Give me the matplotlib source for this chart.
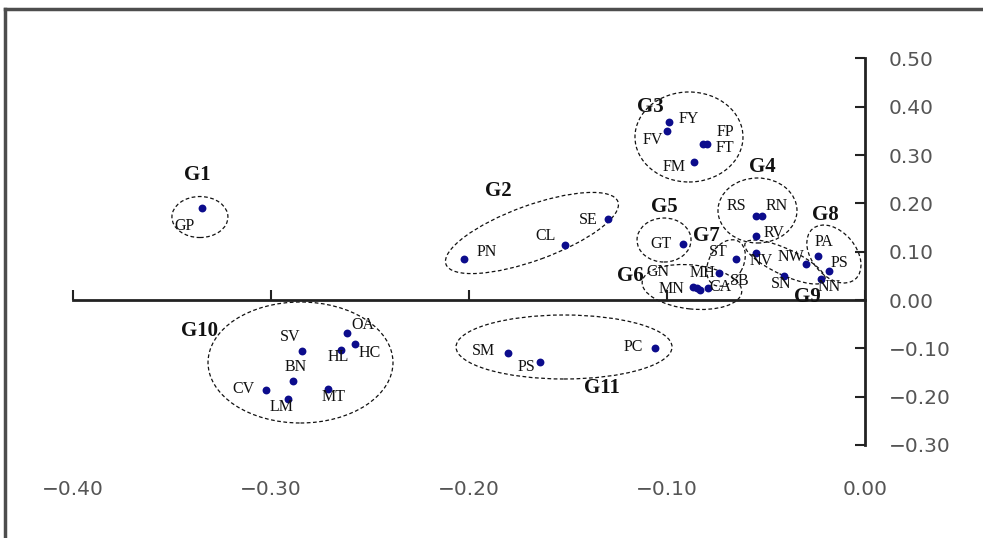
import matplotlib
matplotlib.use('Agg')
import matplotlib.pyplot as plt
from matplotlib.patches import Ellipse
from matplotlib.transforms import ScaledTranslation
from matplotlib.lines import Line2D
from matplotlib.ticker import FuncFormatter

# 포인트 (코드, dim1, dim2)
codes = ['GP',
         'PN', 'CL', 'SE',
         'FY', 'FV', 'FP', 'FT', 'FM',
         'RS', 'RN', 'RV',
         'GT',
         'GN', 'MN', 'MH', 'CA',
         'ST', 'SB',
         'PA', 'PS',
         'NV', 'NW', 'SN', 'NN',
         'OA', 'HC', 'HL', 'SV', 'BN', 'CV', 'LM', 'MT',
         'SM', 'PS', 'PC']
dim1 = [-0.335,
        -0.2025, -0.1515, -0.130,
        -0.0988, -0.1001, -0.0817, -0.0800, -0.0862,
        -0.0551, -0.0522, -0.0552,
        -0.0921,
        -0.0869, -0.0848, -0.0833, -0.0793,
        -0.0650, -0.0736,
        -0.0239, -0.0180,
        -0.0552, -0.0298, -0.0408, -0.0224,
        -0.2618, -0.2576, -0.2648, -0.2843, -0.2887, -0.3027, -0.2914, -0.2714,
        -0.1801, -0.1641, -0.1061]
dim2 = [0.190,
        0.085, 0.114, 0.168,
        0.368, 0.350, 0.322, 0.322, 0.286,
        0.174, 0.174, 0.1325,
        0.115,
        0.027, 0.025, 0.021, 0.025,
        0.085, 0.0565,
        0.0917, 0.0607,
        0.098, 0.074, 0.050, 0.0435,
        -0.069, -0.0918, -0.1035, -0.105, -0.168, -0.186, -0.204, -0.185,
        -0.109, -0.1277, -0.0988]

# 라벨 위치 (pixel offset)
lab_dx = [-17, 23, -19, -19, 19, -14, 22, 18, -20, -19, 15, 18, -22,
          -35, -26, 2, 12, -18, 20, 6, 10, 5, -15, -3, 9,
          16, 15, -2, -12, 2, -22, -6, 6, -25, -14, -22]
lab_dy = [-18, 7, 9, -1, 3, -9, 12, -4, -5, 10, 10, 3, 0,
          15, -1, 17, 1, 7, -8, 14, 8, -8, 7, -8, -8,
          8, -9, -7, 14, 14, 1, -8, -8, 2, -5, 1]

# 그룹
groups = ['G1', 'G2', 'G3', 'G4', 'G5', 'G6', 'G7', 'G8', 'G9', 'G10', 'G11']
group_x = [-0.3374, -0.1854, -0.1086, -0.0520, -0.1015, -0.1187, -0.0803, -0.0202, -0.0293, -0.3359, -0.1328]
group_y = [0.2588, 0.2257, 0.3996, 0.2754, 0.1925, 0.0497, 0.1325, 0.1760, 0.0062, -0.0642, -0.1822]
ell_x = [-0.3359, -0.1682, -0.0889, -0.0543, -0.1015, -0.0874, -0.0702, -0.0157, -0.0404, -0.2851, -0.1520]
ell_y = [0.1718, 0.1387, 0.3375, 0.1853, 0.1242, 0.0269, 0.0766, 0.0952, 0.0787, -0.1294, -0.0973]
ell_w = [56, 183, 108, 79, 54, 100, 50, 66, 88, 185, 216]   # px
ell_h = [41, 55, 90, 65, 44, 44, 34, 44, 26, 121, 64]
ell_ang = [0, 20, 0, 0, 0, -6, 60, -50, -25, 0, 0]

xticks = [-0.40, -0.30, -0.20, -0.10, 0.00]
yticks = [0.50, 0.40, 0.30, 0.20, 0.10, 0.00, -0.10, -0.20, -0.30]

W, H = 983, 538
X0PX, XSC = 865, 1980
Y0PX, YSC = 300, 483
xlim = (-0.42, 0.05)
ylim = (-0.45, 0.60)

fig = plt.figure(figsize=(W / 100, H / 100), dpi=100)
left = (X0PX + XSC * xlim[0]) / W
right = (X0PX + XSC * xlim[1]) / W
top = 1 - (Y0PX - YSC * ylim[1]) / H
bottom = 1 - (Y0PX - YSC * ylim[0]) / H
ax = fig.add_axes([left, bottom, right - left, top - bottom])
ax.set_xlim(*xlim)
ax.set_ylim(*ylim)
ax.patch.set_visible(False)

# 축
for s in ['top', 'left']:
    ax.spines[s].set_visible(False)
ax.spines['bottom'].set_position(('data', 0))
ax.spines['bottom'].set_bounds(-0.40, 0.0)
ax.spines['right'].set_position(('data', 0))
ax.spines['right'].set_bounds(-0.30, 0.50)
for s in ['bottom', 'right']:
    ax.spines[s].set_linewidth(2)
    ax.spines[s].set_color('#222222')

fmt = FuncFormatter(lambda v, p: f'{v:.2f}'.replace('-', '\u2212'))

ax.set_xticks(xticks)
ax.tick_params(axis='x', direction='in', length=7, width=1.5, color='#222222', labelbottom=False)
ax.yaxis.tick_right()
ax.set_yticks(yticks)
ax.yaxis.set_major_formatter(fmt)
ax.tick_params(axis='y', direction='in', length=7, width=1.5, color='#222222',
               pad=17, labelsize=14.5, labelcolor='#555555')

sec_loc = (((Y0PX - 479) / YSC) - ylim[0]) / (ylim[1] - ylim[0])
sec = ax.secondary_xaxis(sec_loc)
sec.set_xticks(xticks)
sec.xaxis.set_major_formatter(fmt)
sec.tick_params(length=0, pad=1, labelsize=14.5, labelcolor='#555555')
sec.spines['bottom'].set_visible(False)

# 점
ax.scatter(dim1, dim2, s=32, color='#0c0c8c', zorder=3, linewidths=0)
for c, x, y, dx, dy in zip(codes, dim1, dim2, lab_dx, lab_dy):
    ax.annotate(c, (x, y), xytext=(dx, dy), textcoords='offset pixels',
                ha='center', va='center', fontfamily='Liberation Serif',
                fontsize=11.5, color='#111111')

# 그룹 타원
for g, gx, gy, ex, ey, w, h, a in zip(groups, group_x, group_y, ell_x, ell_y, ell_w, ell_h, ell_ang):
    tr = fig.dpi_scale_trans + ScaledTranslation(ex, ey, ax.transData)
    ax.add_patch(Ellipse((0, 0), w / 100, h / 100, angle=a, transform=tr,
                         fill=False, ls=(0, (3, 2)), lw=0.9, color='#111111'))
    ax.text(gx, gy, g, ha='center', va='center', fontfamily='Liberation Serif',
            fontweight='bold', fontsize=15, color='#111111')

# 바깥 테두리
fig.add_artist(Line2D([5 / W, 5 / W], [0, 1 - 9 / H], color='#4d4d4d', lw=2.5))
fig.add_artist(Line2D([5 / W, 1], [1 - 9 / H, 1 - 9 / H], color='#4d4d4d', lw=2.5))

fig.savefig('out.png', dpi=100)
